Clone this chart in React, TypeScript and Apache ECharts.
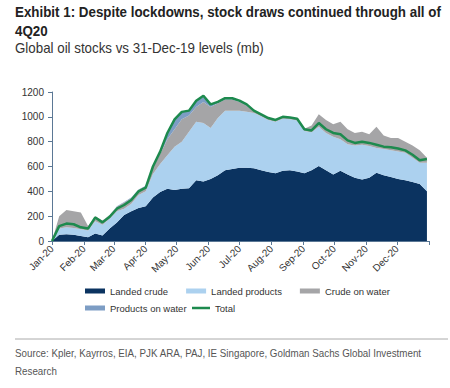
import React, { useEffect, useRef } from "react";
import * as echarts from "echarts";

const dates = [
  "2020-01-01", "2020-01-08", "2020-01-15", "2020-01-22", "2020-01-29",
  "2020-02-05", "2020-02-12", "2020-02-19", "2020-02-26",
  "2020-03-04", "2020-03-11", "2020-03-18", "2020-03-25",
  "2020-04-01", "2020-04-08", "2020-04-15", "2020-04-22", "2020-04-29",
  "2020-05-06", "2020-05-13", "2020-05-20", "2020-05-27",
  "2020-06-03", "2020-06-10", "2020-06-17", "2020-06-24",
  "2020-07-01", "2020-07-08", "2020-07-15", "2020-07-22", "2020-07-29",
  "2020-08-05", "2020-08-12", "2020-08-19", "2020-08-26",
  "2020-09-02", "2020-09-09", "2020-09-16", "2020-09-23", "2020-09-30",
  "2020-10-07", "2020-10-14", "2020-10-21", "2020-10-28",
  "2020-11-04", "2020-11-11", "2020-11-18", "2020-11-25",
  "2020-12-02", "2020-12-09", "2020-12-16", "2020-12-23", "2020-12-30",
];

const landedCrude = [0, 50, 55, 50, 40, 30, 60, 45, 100, 150, 210, 240, 265, 280, 350, 395, 420, 410, 420, 425, 490, 480, 500, 530, 570, 580, 590, 590, 585, 570, 555, 545, 565, 570, 560, 545, 570, 605, 570, 535, 565, 535, 510, 495, 510, 550, 530, 515, 500, 490, 475, 460, 400];
const landedProducts = [0, 50, 55, 55, 55, 55, 100, 85, 80, 90, 50, 60, 105, 120, 190, 225, 270, 350, 380, 455, 470, 470, 410, 460, 480, 470, 460, 450, 445, 435, 420, 415, 420, 410, 410, 340, 305, 315, 300, 305, 255, 245, 260, 280, 255, 200, 210, 215, 220, 220, 195, 170, 230];
const crudeOnWater = [0, 100, 140, 135, 135, 35, 40, 35, 30, 35, 50, 45, 40, 40, 50, 80, 130, 140, 180, 130, 120, 170, 170, 120, 90, 90, 70, 50, 15, 10, 10, 10, 15, 15, 20, 20, 55, 100, 105, 100, 140, 120, 100, 105, 95, 170, 110, 100, 110, 90, 100, 100, 40];
const productsOnWater = [0, 0, 0, 0, 0, 0, 0, 0, 0, 5, 5, 5, 5, 5, 10, 20, 50, 80, 60, 40, 50, 40, 20, 10, 5, 5, 5, 5, 0, 0, 0, 0, 0, 0, 0, 0, 0, 0, 0, 0, 0, 0, 0, 0, 0, 0, 0, 0, 0, 0, 0, 0, 0];
const total = [0, 120, 140, 135, 110, 100, 190, 150, 195, 260, 290, 330, 400, 430, 600, 720, 870, 980, 1040, 1050, 1130, 1170, 1100, 1120, 1150, 1150, 1130, 1100, 1050, 1020, 990, 975, 1000, 995, 985, 900, 890, 950, 900, 870, 860, 810, 790, 800, 790, 775, 760, 755, 745, 730, 695, 650, 660];

const monthLabels = ["Jan-20", "Feb-20", "Mar-20", "Apr-20", "May-20", "Jun-20", "Jul-20", "Aug-20", "Sep-20", "Oct-20", "Nov-20", "Dec-20"];
const yTicks = [0, 200, 400, 600, 800, 1000, 1200];

const seriesNames = ["Landed crude", "Landed products", "Crude on water", "Products on water", "Total"];

const titleText = "Exhibit 1: Despite lockdowns, stock draws continued through all of";
const titleText2 = "4Q20";
const subtitleText = "Global oil stocks vs 31-Dec-19 levels (mb)";
const sourceText = "Source: Kpler, Kayrros, EIA, PJK ARA, PAJ, IE Singapore, Goldman Sachs Global Investment";
const sourceText2 = "Research";

const SANS = "'Liberation Sans', Arial, sans-serif";

// every calendar day of the axis (2020-01-01 .. 2021-01-01), used as axis categories
const buildDays = () => {
  const out: string[] = [];
  const start = Date.UTC(2020, 0, 1);
  const end = Date.UTC(2021, 0, 1);
  for (let t = start; t <= end; t += 86400000) out.push(new Date(t).toISOString().slice(0, 10));
  return out;
};

export default function App() {
  const ref = useRef<HTMLDivElement>(null);
  useEffect(() => {
    if (!ref.current) return;
    const chart = echarts.init(ref.current, undefined, { renderer: "svg" });
    const axisDays = buildDays();
    const isMonthStart = (_i: number, v: string) => v.slice(8, 10) === "01";
    const pair = (arr: number[]) => arr.map((v, i) => [dates[i], v]);
    const area = (name: string, arr: number[], color: string) => ({
      name,
      type: "line",
      stack: "s",
      data: pair(arr),
      symbol: "none",
      showSymbol: false,
      lineStyle: { width: 0, color },
      itemStyle: { color },
      areaStyle: { color, opacity: 1 },
    });
    const txt = (text: string, x: number, y: number, size: number, weight: string, color: string, sx: number) => ({
      type: "text",
      x,
      y,
      scaleX: sx,
      style: { text, fontFamily: SANS, fontSize: size, fontWeight: weight, fill: color, textVerticalAlign: "top" },
    });
    const legendText = { fontFamily: SANS, fontSize: 9.5, color: "#333" };
    chart.setOption({
      animation: false,
      graphic: [
        txt(titleText, 15, 5, 14, "bold", "#222", 0.955),
        txt(titleText2, 15, 24, 14, "bold", "#222", 0.955),
        txt(subtitleText, 15, 41, 14, "normal", "#333", 0.953),
        txt(sourceText, 15, 348, 11, "normal", "#555", 0.89),
        txt(sourceText2, 15, 366, 11, "normal", "#555", 0.89),
        { type: "line", shape: { x1: 15, y1: 339, x2: 448, y2: 339 }, style: { stroke: "#aaa", lineWidth: 1 } },
      ],
      legend: [
        {
          left: 80,
          top: 281,
          itemWidth: 20,
          itemHeight: 5,
          itemGap: 18,
          textStyle: legendText,
          data: [
            { name: seriesNames[0], icon: "rect" },
            { name: seriesNames[1], icon: "rect" },
            { name: seriesNames[2], icon: "rect" },
          ],
        },
        {
          left: 80,
          top: 298,
          itemWidth: 20,
          itemHeight: 5,
          textStyle: legendText,
          data: [{ name: seriesNames[3], icon: "rect" }],
        },
        {
          left: 187,
          top: 298,
          itemWidth: 18,
          itemHeight: 2.5,
          textStyle: legendText,
          data: [{ name: seriesNames[4], icon: "rect" }],
        },
      ],
      grid: { left: 52, right: 21, top: 92, bottom: 147, containLabel: false },
      xAxis: {
        type: "category",
        data: axisDays,
        boundaryGap: false,
        splitLine: { show: false },
        axisLine: { show: true, lineStyle: { color: "#5b7895", width: 1 } },
        axisTick: { show: true, interval: isMonthStart, length: 4, lineStyle: { color: "#5b7895" } },
        axisLabel: {
          interval: (i: number, v: string) => isMonthStart(i, v) && v.slice(0, 4) === "2020",
          rotate: 45,
          margin: 6,
          fontFamily: SANS,
          fontSize: 10,
          color: "#333",
          formatter: (v: string) => monthLabels[Number(v.slice(5, 7)) - 1],
        },
      },
      yAxis: {
        type: "value",
        min: 0,
        max: 1200,
        interval: 200,
        splitLine: { show: false },
        axisLine: { show: true, lineStyle: { color: "#5b7895", width: 1 } },
        axisTick: { show: true, length: 4, lineStyle: { color: "#5b7895" } },
        axisLabel: {
          margin: 8,
          fontFamily: SANS,
          fontSize: 10,
          color: "#333",
          formatter: (v: number) => (yTicks.includes(v) ? String(v) : ""),
        },
      },
      series: [
        area(seriesNames[0], landedCrude, "#0b3360"),
        area(seriesNames[1], landedProducts, "#acd1ef"),
        area(seriesNames[2], crudeOnWater, "#a5a5a7"),
        area(seriesNames[3], productsOnWater, "#7d9dc4"),
        {
          name: seriesNames[4],
          type: "line",
          data: pair(total),
          symbol: "none",
          showSymbol: false,
          lineStyle: { width: 2.5, color: "#1d8a4e" },
          itemStyle: { color: "#1d8a4e" },
          z: 5,
        },
      ],
    });
    return () => chart.dispose();
  }, []);
  return <div ref={ref} style={{ width: 450, height: 388, position: "absolute", left: 0, top: 0 }} />;
}
